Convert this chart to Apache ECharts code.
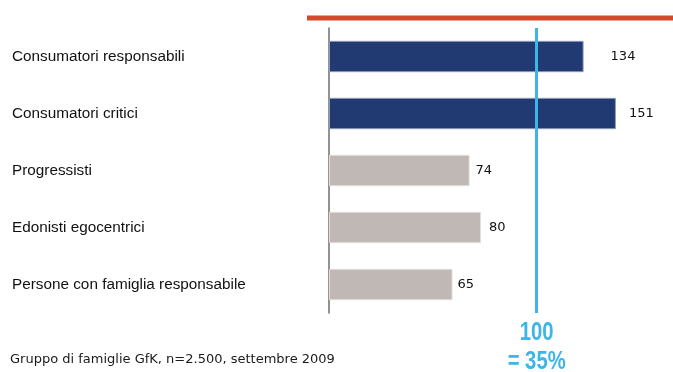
<!DOCTYPE html>
<html>
<head>
<meta charset="utf-8">
<script src="https://cdn.jsdelivr.net/npm/echarts@6/dist/echarts.min.js"></script>
<style>html,body{margin:0;padding:0;background:#fff}#c{width:673px;height:372px}</style>
</head>
<body>
<div id="c"></div>
<script>
const categories = ['Consumatori responsabili','Consumatori critici','Progressisti','Edonisti egocentrici','Persone con famiglia responsabile'];
const values = [134, 151, 74, 80, 65];
const highlighted = [true, true, false, false, false];
const referenceValue = 109.3; // position of the "100 = 35%" line as drawn
const referenceLabel = ['100', '= 35%'];
const footnote = 'Gruppo di famiglie GfK, n=2.500, settembre 2009';

const labelDistances = [27, 13, 6, 8, 5];

const chart = echarts.init(document.getElementById('c'), null, {renderer: 'canvas'});
const option = {
  animation: false,
  grid: {left: 329, right: 2, top: 28, bottom: 59, containLabel: false},
  xAxis: {type: 'value', min: 0, max: 180, show: false},
  yAxis: {
    type: 'category', data: categories, inverse: true,
    axisLine: {show: true, lineStyle: {color: '#6e6e6e', width: 1.5}},
    axisTick: {show: false},
    axisLabel: {align: 'left', margin: 317, color: '#111', fontFamily: 'Liberation Sans, Arial', fontSize: 15.3}
  },
  series: [{
    type: 'bar',
    barCategoryGap: '45%',
    data: values.map((v, i) => ({
      value: v,
      itemStyle: highlighted[i]
        ? {color: '#213a72', borderColor: '#8d9bbd', borderWidth: 1}
        : {color: '#c0b8b4', borderColor: '#e2dedc', borderWidth: 1},
      label: {distance: labelDistances[i]}
    })),
    label: {show: true, position: 'right', color: '#111', fontFamily: 'DejaVu Sans, Verdana', fontSize: 13},
    markLine: {
      silent: true, symbol: 'none',
      label: {show: false},
      lineStyle: {color: '#3db5e6', width: 3, type: 'solid'},
      data: [{xAxis: referenceValue}]
    }
  }]
};
chart.setOption(option);
const px = chart.convertToPixel({xAxisIndex: 0}, referenceValue);
const refFont = 'bold 26px "Liberation Sans", Arial';
chart.setOption({graphic: [
  {type: 'line', shape: {x1: 307, y1: 18, x2: 673, y2: 18}, style: {stroke: '#d2492c', lineWidth: 5}},
  {type: 'text', left: 10, top: 353, style: {text: footnote, fill: '#1a1a1a', font: '13px "DejaVu Sans", Verdana'}},
  {type: 'text', x: px, y: 333, scaleX: 0.78, style: {text: referenceLabel[0], align: 'center', verticalAlign: 'middle', fill: '#3db5e6', font: refFont}},
  {type: 'text', x: px, y: 362, scaleX: 0.78, style: {text: referenceLabel[1], align: 'center', verticalAlign: 'middle', fill: '#3db5e6', font: refFont}}
]});
</script>
</body>
</html>
